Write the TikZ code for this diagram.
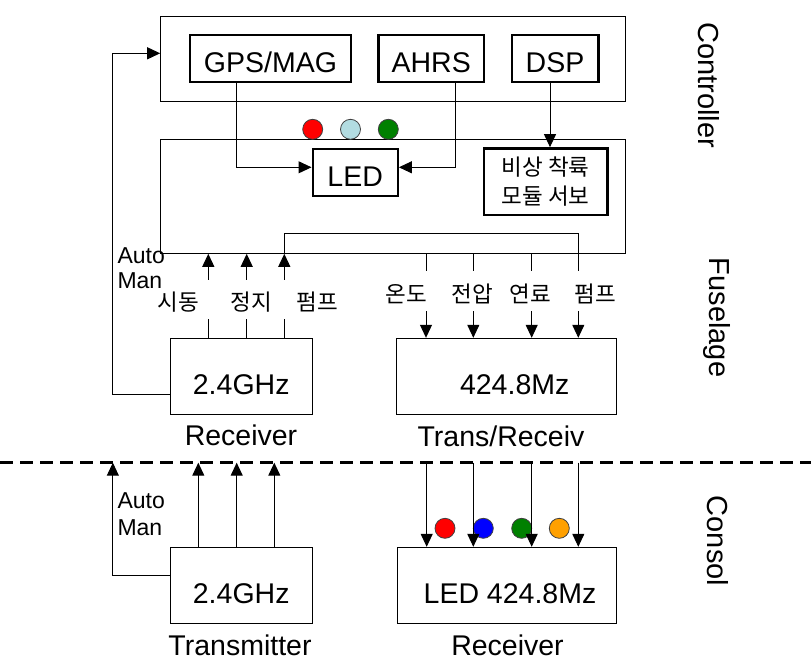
\documentclass[tikz,border=0pt]{standalone}
\usepackage{fontspec}
\setmainfont{Liberation Sans}
\newfontfamily\hangul{Noto Sans CJK KR}
\usetikzlibrary{arrows.meta}

\definecolor{lampcyan}{RGB}{178,220,225}
\definecolor{lampgreen}{RGB}{0,128,0}
\definecolor{lamporange}{RGB}{255,160,0}

\begin{document}
\begin{tikzpicture}[x=1pt,y=-1pt,>={Triangle[length=13pt,width=12pt]},line width=1pt,
		font=\fontsize{28.5}{30}\selectfont]
		\tikzstyle{frame}=[draw,line width=1pt,inner sep=0pt,text height=37pt]
		\tikzstyle{block}=[draw,line width=2.4pt,inner sep=0pt,text height=28pt]
		\tikzstyle{modbox}=[draw,line width=2.4pt,inner sep=0pt,align=center,font=\hangul\fontsize{22.5}{29}\selectfont]
		\tikzstyle{kor}=[font=\hangul\fontsize{22.5}{29}\selectfont,inner sep=0pt]
		\tikzstyle{small}=[font=\fontsize{23}{25}\selectfont,anchor=west,inner sep=0pt]
		\tikzstyle{side}=[rotate=-90,font=\fontsize{29}{30}\selectfont,inner sep=0pt]
		\tikzstyle{lamp}=[draw=black!75,line width=0.8pt]

		\useasboundingbox (0,0) rectangle (811,664);

		% Controller
		\node[frame,minimum width=465pt,minimum height=85pt] (ctrl) at (393.2,58.5) {};
		\node[block,minimum width=161pt,minimum height=47pt] (gps) at (270.5,58.2) {GPS/MAG};
		\node[block,minimum width=105.7pt,minimum height=47pt] (ahrs) at (431.2,58.2) {AHRS};
		\node[block,minimum width=86.6pt,minimum height=47pt] (dsp) at (555,58.2) {DSP};

		% Fuselage
		\node[frame,minimum width=465.3pt,minimum height=114pt] (fus) at (393.3,196.3) {};
		\node[block,minimum width=85pt,minimum height=47pt] (led) at (355.2,172.5) {LED};
		\node[modbox,minimum width=123.3pt,minimum height=66.7pt] (servo) at (545.7,181.7) {비상 착륙\\모듈 서보};

		\draw[lamp,fill=red] (312.7,129.3) circle (10);
		\draw[lamp,fill=lampcyan] (350.5,129.3) circle (10);
		\draw[lamp,fill=lampgreen] (388.3,129.3) circle (10);

		\node[frame,minimum width=142.3pt,minimum height=75.7pt] (rx) at (241.2,376.2) {2.4GHz};
		\node[frame,minimum width=220pt,minimum height=76pt] (trx) at (506.7,376.3) {\hspace*{16pt}424.8Mz};
		\node (rxname) at (241,435) {Receiver};
		\node (trxname) at (501,436) {Trans/Receiv};

		\node[small] (auto1) at (117,256) {Auto};
		\node[small] (man1) at (117,281) {Man};
		\node[kor] (start) at (178.5,302) {시동};
		\node[kor] (stop) at (251,302) {정지};
		\node[kor] (pump1) at (317,302) {펌프};
		\node[kor] (temp) at (406,294) {온도};
		\node[kor] (volt) at (472.5,294) {전압};
		\node[kor] (fuel) at (530,294) {연료};
		\node[kor] (pump2) at (595,294) {펌프};

		% Consol
		\node[frame,minimum width=142.3pt,minimum height=76pt] (tx) at (241.2,585.3) {2.4GHz};
		\node[frame,minimum width=219.4pt,minimum height=76pt] (rxb) at (507,585.3) {\hspace*{6pt}LED 424.8Mz};
		\node (txname) at (240,645) {Transmitter};
		\node (rxbname) at (507.5,645) {Receiver};
		\node[small] (auto2) at (117,501) {Auto};
		\node[small] (man2) at (117,528) {Man};

		\draw[lamp,fill=red] (445,528.3) circle (10);
		\draw[lamp,fill=blue] (483.3,528.3) circle (10);
		\draw[lamp,fill=lampgreen] (521.7,528.3) circle (10);
		\draw[lamp,fill=lamporange] (559.3,528.3) circle (10);

		\node[side] (lctrl) at (709,85) {Controller};
		\node[side] (lfus) at (717,317.5) {Fuselage};
		\node[side] (lcon) at (718,541) {Consol};

		% separator
		\coordinate (cutl) at (0,462.7);
		\coordinate (cutr) at (811,462.7);
		\draw[line width=3.5pt,dash pattern=on 13pt off 7pt] (cutl) -- (cutr);

		% controller -> LED, servo
		\coordinate (g1) at ([xshift=-33.8pt]gps.south);
		\coordinate (a1) at ([xshift=24.5pt]ahrs.south);
		\coordinate (d1) at ([xshift=-5pt]dsp.south);
		\draw[->] (g1) |- ([yshift=5.2pt]led.west);
		\draw[->] (a1) |- ([yshift=5.2pt]led.east);
		\draw[->] (d1) -- (d1 |- servo.north);

		% Auto/Man back to controller
		\draw[->] ([yshift=-18.1pt]rx.west) -- ++(-56.7,0) |- ([yshift=5.2pt]ctrl.west);

		% receiver -> fuselage
		\coordinate (s1) at ([xshift=-32.9pt]rx.north);
		\coordinate (s2) at ([xshift=5.5pt]rx.north);
		\coordinate (s3) at ([xshift=43.1pt]rx.north);
		\draw (s1) -- ([yshift=19.3pt]s1);
		\draw (s2) -- ([yshift=19.3pt]s2);
		\draw (s3) -- ([yshift=19.3pt]s3);
		\draw[->] ([yshift=58.3pt]s1) -- (s1 |- fus.south);
		\draw[->] ([yshift=58.3pt]s2) -- (s2 |- fus.south);
		\draw[->] ([yshift=58.3pt]s3) -- (s3 |- fus.south);

		% fuselage -> trans/receiv
		\coordinate (t1) at ([xshift=-80.7pt]trx.north);
		\coordinate (t2) at ([xshift=-33.4pt]trx.north);
		\coordinate (t3) at ([xshift=25pt]trx.north);
		\coordinate (t4) at ([xshift=71.6pt]trx.north);
		\draw (t1 |- fus.south) -- ([yshift=66.6pt]t1);
		\draw (t2 |- fus.south) -- ([yshift=66.6pt]t2);
		\draw (t3 |- fus.south) -- ([yshift=66.6pt]t3);
		\draw (s3 |- fus.south) -- ++(0,-20) -| ([yshift=66.6pt]t4);
		\draw[->] ([yshift=26.6pt]t1) -- (t1);
		\draw[->] ([yshift=26.6pt]t2) -- (t2);
		\draw[->] ([yshift=26.6pt]t3) -- (t3);
		\draw[->] ([yshift=26.6pt]t4) -- (t4);

		% transmitter -> air
		\coordinate (u1) at ([xshift=-42.9pt]tx.north);
		\coordinate (u2) at ([xshift=-4.5pt]tx.north);
		\coordinate (u3) at ([xshift=33.1pt]tx.north);
		\draw[->] (u1) -- (u1 |- cutl);
		\draw[->] (u2) -- (u2 |- cutl);
		\draw[->] (u3) -- (u3 |- cutl);
		\draw[->] ([yshift=10.3pt]tx.west) -- ++(-56.7,0) coordinate (am) -- (am |- cutl);

		% air -> receiver
		\coordinate (v1) at ([xshift=-80.3pt]rxb.north);
		\coordinate (v2) at ([xshift=-33.7pt]rxb.north);
		\coordinate (v3) at ([xshift=24.7pt]rxb.north);
		\coordinate (v4) at ([xshift=71.3pt]rxb.north);
		\draw[->] (v1 |- cutl) -- (v1);
		\draw[->] (v2 |- cutl) -- (v2);
		\draw[->] (v3 |- cutl) -- (v3);
		\draw[->] (v4 |- cutl) -- (v4);
\end{tikzpicture}
\end{document}
